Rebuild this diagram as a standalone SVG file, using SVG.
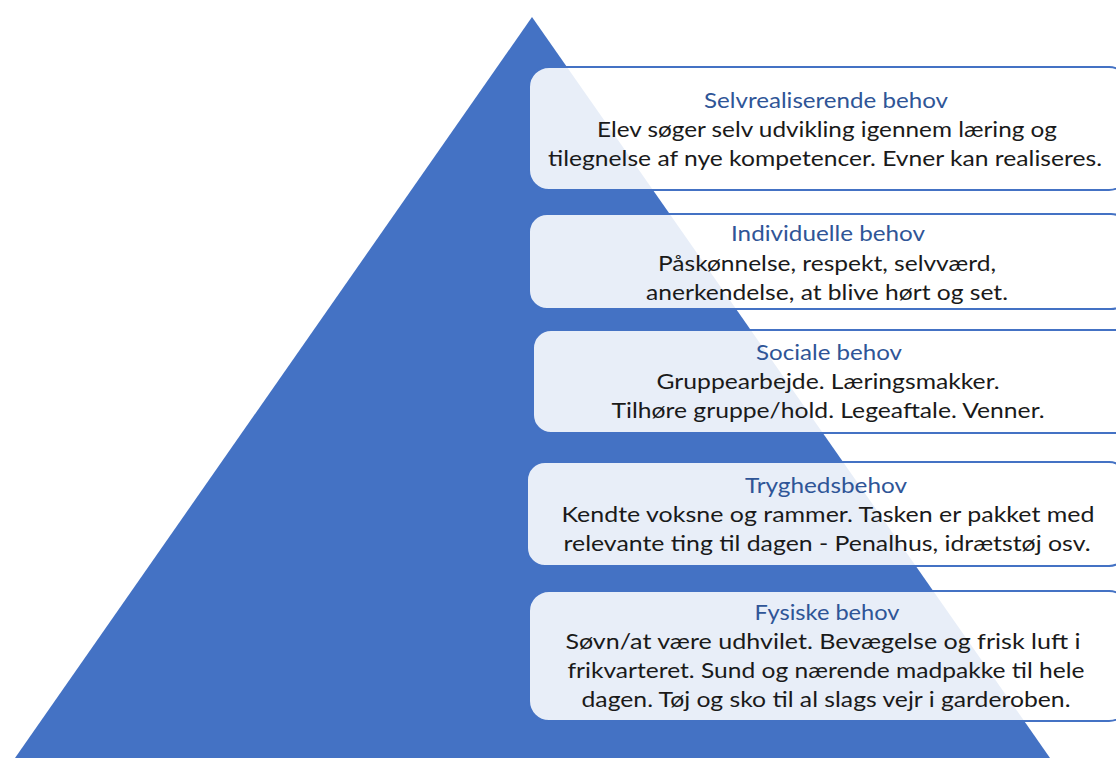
<svg xmlns="http://www.w3.org/2000/svg" width="1116" height="758" viewBox="0 0 1116 758">
<style>
.box{fill:#ffffff;fill-opacity:0.88;stroke:#4472C4;stroke-width:2}
.t{font-family:Lato,"Open Sans","Liberation Sans",sans-serif;font-size:22px;text-anchor:middle}
.h{fill:#2F5597}
.b{fill:#1a1a1a}
</style>
<rect width="1116" height="758" fill="#ffffff"/>
<g id="pyramid"><polygon points="532,17 1050,758 15,758" fill="#4472C4"/></g>
<g id="connectors"></g>
<g id="n1">
<rect class="box" x="529" y="67" width="600" height="123" rx="20"/>
<text class="t h" x="826" y="108" textLength="244" lengthAdjust="spacingAndGlyphs">Selvrealiserende behov</text>
<text class="t b" x="827" y="137" textLength="460" lengthAdjust="spacingAndGlyphs">Elev søger selv udvikling igennem læring og</text>
<text class="t b" x="825" y="166" textLength="554" lengthAdjust="spacingAndGlyphs">tilegnelse af nye kompetencer. Evner kan realiseres.</text>
</g>
<g id="n2">
<rect class="box" x="529" y="214" width="600" height="95" rx="18"/>
<text class="t h" x="828" y="241" textLength="194" lengthAdjust="spacingAndGlyphs">Individuelle behov</text>
<text class="t b" x="827" y="271" textLength="338" lengthAdjust="spacingAndGlyphs">Påskønnelse, respekt, selvværd,</text>
<text class="t b" x="827" y="300" textLength="362" lengthAdjust="spacingAndGlyphs">anerkendelse, at blive hørt og set.</text>
</g>
<g id="n3">
<rect class="box" x="533" y="330" width="600" height="103" rx="18"/>
<text class="t h" x="829" y="360" textLength="146" lengthAdjust="spacingAndGlyphs">Sociale behov</text>
<text class="t b" x="828" y="389" textLength="343" lengthAdjust="spacingAndGlyphs">Gruppearbejde. Læringsmakker.</text>
<text class="t b" x="828" y="418" textLength="433" lengthAdjust="spacingAndGlyphs">Tilhøre gruppe/hold. Legeaftale. Venner.</text>
</g>
<g id="n4">
<rect class="box" x="527" y="462" width="600" height="104" rx="18"/>
<text class="t h" x="826" y="493" textLength="162" lengthAdjust="spacingAndGlyphs">Tryghedsbehov</text>
<text class="t b" x="828" y="522" textLength="533" lengthAdjust="spacingAndGlyphs">Kendte voksne og rammer. Tasken er pakket med</text>
<text class="t b" x="827" y="551" textLength="527" lengthAdjust="spacingAndGlyphs">relevante ting til dagen - Penalhus, idrætstøj osv.</text>
</g>
<g id="n5">
<rect class="box" x="529" y="591" width="600" height="130" rx="20"/>
<text class="t h" x="827" y="620" textLength="145" lengthAdjust="spacingAndGlyphs">Fysiske behov</text>
<text class="t b" x="823" y="649" textLength="515" lengthAdjust="spacingAndGlyphs">Søvn/at være udhvilet. Bevægelse og frisk luft i</text>
<text class="t b" x="826" y="678" textLength="517" lengthAdjust="spacingAndGlyphs">frikvarteret. Sund og nærende madpakke til hele</text>
<text class="t b" x="826" y="707" textLength="489" lengthAdjust="spacingAndGlyphs">dagen. Tøj og sko til al slags vejr i garderoben.</text>
</g>
</svg>
